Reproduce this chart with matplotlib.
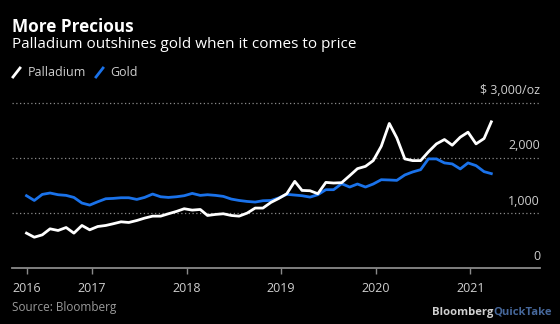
import matplotlib
matplotlib.use('Agg')
import matplotlib.pyplot as plt
import matplotlib.transforms as mtransforms
from matplotlib.lines import Line2D
import pandas as pd

# ---------------- data ----------------
dates = pd.date_range('2016-04-23', periods=60, freq=pd.DateOffset(months=1))
palladium = [637, 563, 606, 715, 685, 739, 637, 776, 697, 757,
             776, 806, 842, 830, 866, 909, 945, 945, 988, 1030,
             1079, 1054, 1066, 957, 976, 988, 957, 945, 1000, 1091,
             1091, 1194, 1265, 1350, 1575, 1411, 1405, 1351, 1556, 1545,
             1551, 1678, 1805, 1847, 1951, 2211, 2624, 2364, 1982, 1951,
             1951, 2109, 2254, 2333, 2230, 2375, 2466, 2254, 2351, 2654]
gold = [1315, 1229, 1339, 1364, 1333, 1321, 1284, 1182, 1145, 1205,
        1260, 1266, 1278, 1278, 1248, 1284, 1345, 1296, 1284, 1296,
        1315, 1357, 1321, 1333, 1321, 1303, 1254, 1229, 1211, 1200,
        1224, 1229, 1275, 1340, 1327, 1315, 1290, 1333, 1424, 1424,
        1533, 1472, 1527, 1472, 1527, 1605, 1600, 1593, 1691, 1745,
        1787, 1982, 1982, 1909, 1891, 1800, 1909, 1860, 1751, 1715]
year_labels = ['2016', '2017', '2018', '2019', '2020', '2021']
year_starts = ['2017-01-01', '2018-01-01', '2019-01-01', '2020-01-01', '2021-01-01']
y_ticks = [0, 1000, 2000, 3000]
y_labels = ['0', '1,000', '2,000', '$ 3,000/oz']
series_names = ['Palladium', 'Gold']

# ---------------- style ----------------
W, H = 560, 324
BG = '#000000'
WHITE = '#ffffff'
BLUE = '#1a72ea'
GRID = '#8a8a8a'
LABEL = '#cfcfcf'
FONT = 'Open Sans'
plt.rcParams['font.family'] = [FONT, 'DejaVu Sans']

fig = plt.figure(figsize=(W / 100, H / 100), dpi=100, facecolor=BG)

def fx(x):
    return x / W

def fy(y):
    return 1 - y / H

ax_left, ax_right, ax_top, ax_bottom = 12, 540, 102.7, 268.3
ax = fig.add_axes([fx(ax_left), fy(ax_bottom), (ax_right - ax_left) / W, (ax_bottom - ax_top) / H])
ax.set_facecolor(BG)

ax.plot(dates, gold, color=BLUE, lw=2.0, solid_joinstyle='round', zorder=3)
ax.plot(dates, palladium, color=WHITE, lw=2.0, solid_joinstyle='round', zorder=4)

ax.set_ylim(0, 3000)
ax.set_xlim(pd.Timestamp('2016-02-27'), pd.Timestamp('2021-09-27'))

for v in y_ticks[1:]:
    ax.axhline(v, color=GRID, lw=0.9, ls=(0, (1, 2)), clip_on=False, zorder=1)

for s in ['top', 'left', 'right']:
    ax.spines[s].set_visible(False)
ax.spines['bottom'].set_color(GRID)
ax.spines['bottom'].set_linewidth(1.3)

xt = [dates[0]] + [pd.Timestamp(d) for d in year_starts]
ax.set_xticks(xt)
ax.set_xticklabels(year_labels)
ax.tick_params(axis='x', direction='out', length=4, width=1, color=GRID,
               labelcolor=LABEL, labelsize=9, pad=6)
ax.set_yticks([])

trans = mtransforms.blended_transform_factory(ax.transAxes, ax.transData)
trans_off = trans + mtransforms.ScaledTranslation(0, 4 / 72, fig.dpi_scale_trans)
for v, lab in zip(y_ticks, y_labels):
    ax.text(1.0, v, lab, transform=trans_off, ha='right', va='bottom',
            color=LABEL, fontsize=9)

# ---------------- header ----------------
fig.text(fx(12), fy(27), 'More Precious', color=WHITE, fontsize=12.3,
         fontweight='bold', ha='left', va='center')
fig.text(fx(12), fy(44.5), 'Palladium outshines gold when it comes to price',
         color=WHITE, fontsize=11, ha='left', va='center')

# legend
for (x0, col, name, tx) in [(13, WHITE, series_names[0], 28), (96, BLUE, series_names[1], 110)]:
    fig.add_artist(Line2D([fx(x0), fx(x0 + 7)], [fy(77), fy(68)], color=col, lw=2,
                          transform=fig.transFigure))
    fig.text(fx(tx), fy(72.5), name, color=LABEL, fontsize=9, ha='left', va='center')

# footer
fig.text(fx(12), fy(308), 'Source: Bloomberg', color='#9a9a9a', fontsize=8.5,
         ha='left', va='center')
t1 = fig.text(fx(432), fy(312), 'Bloomberg', color='#d0d0d0', fontsize=8.1,
              fontweight='bold', ha='left', va='center')
fig.canvas.draw()
bb = t1.get_window_extent()
fig.text(bb.x1 / W, fy(312), 'QuickTake', color='#46679a', fontsize=8.1,
         fontweight='bold', ha='left', va='center')

fig.savefig('out.png', dpi=100, facecolor=BG)
